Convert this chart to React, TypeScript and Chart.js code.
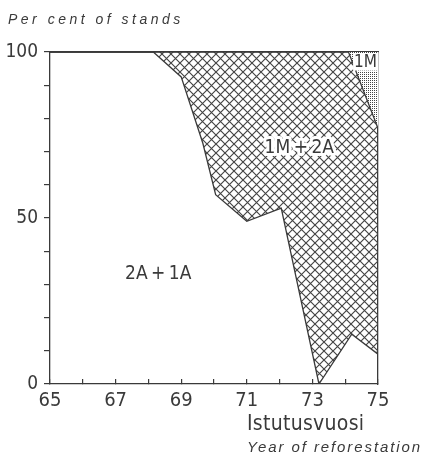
import { useEffect, useRef } from "react";
import { Chart, registerables } from "chart.js";

Chart.register(...registerables);

// Share of stands (%) in the "2A + 1A" class, by year of reforestation
const years2A1A = [65, 68.15, 69, 69.66, 70.05, 71, 72.05, 73.2, 74.2, 75];
const share2A1A = [100, 100, 92.5, 72.5, 57, 49, 53, 0, 15, 9];

// Upper edge of the "1M + 2A" class (the rest, up to 100 %, is "1M")
const years1M2A = [65, 74.1, 75];
const top1M2A = [100, 100, 77];

const xTickYears = [65, 66, 67, 68, 69, 70, 71, 72, 73, 74, 75];
const xLabelYears = [65, 67, 69, 71, 73, 75];
const yLabelValues = [0, 50, 100];

const classNames = ["2A\u2009+\u20091A", "1M\u2009+\u20092A", "1M"];
const classAnchorYear = [68.3, 72.6, 74.62];
const classAnchorShare = [33, 71, 96.8];

const FONT = "'Liberation Sans Narrow', 'DejaVu Sans Condensed', 'Liberation Sans', sans-serif";
const INK = "#3a3a3a";

function hatchPattern(ctx: CanvasRenderingContext2D): CanvasPattern {
  const s = 9;
  const c = document.createElement("canvas");
  c.width = s;
  c.height = s;
  const g = c.getContext("2d")!;
  g.strokeStyle = "#444";
  g.lineWidth = 1.15;
  for (const k of [-s, 0, s]) {
    g.beginPath();
    g.moveTo(k, 0);
    g.lineTo(k + s, s);
    g.moveTo(k, s);
    g.lineTo(k + s, 0);
    g.stroke();
  }
  return ctx.createPattern(c, "repeat")!;
}

function stipplePattern(ctx: CanvasRenderingContext2D): CanvasPattern {
  const c = document.createElement("canvas");
  c.width = 2;
  c.height = 2;
  const g = c.getContext("2d")!;
  g.fillStyle = "#fff";
  g.fillRect(0, 0, 2, 2);
  g.fillStyle = "#444";
  g.fillRect(0, 0, 1, 1);
  return ctx.createPattern(c, "repeat")!;
}

const classLabelPlugin = {
  id: "classLabels",
  afterDatasetsDraw(chart: any) {
    const { ctx, scales } = chart;
    const x = scales.x;
    const y = scales.y;
    ctx.save();
    ctx.textAlign = "center";
    ctx.textBaseline = "middle";
    classNames.forEach((name, i) => {
      const px = x.getPixelForValue(classAnchorYear[i]);
      const py = y.getPixelForValue(classAnchorShare[i]);
      const boxed = i === 2;
      ctx.font = `${boxed ? 17 : 19}px ${FONT}`;
      const w = ctx.measureText(name).width;
      if (boxed) {
        ctx.fillStyle = "#fff";
        ctx.fillRect(px - w / 2 - 1, py - 9, w + 2, 17);
      } else {
        ctx.strokeStyle = "#fff";
        ctx.lineWidth = 6;
        ctx.lineJoin = "round";
        ctx.strokeText(name, px, py);
      }
      ctx.fillStyle = INK;
      ctx.fillText(name, px, py);
    });
    ctx.restore();
  },
};

export default function App() {
  const canvasRef = useRef<HTMLCanvasElement | null>(null);

  useEffect(() => {
    const canvas = canvasRef.current;
    if (!canvas) return;
    const ctx = canvas.getContext("2d")!;

    const lowerEdge = years2A1A.map((yr, i) => ({ x: yr, y: share2A1A[i] }));
    const upperEdge = years1M2A.map((yr, i) => ({ x: yr, y: top1M2A[i] }));

    const chart = new Chart(ctx, {
      type: "line",
      data: {
        datasets: [
          {
            label: "1M",
            data: upperEdge,
            fill: "end",
            backgroundColor: stipplePattern(ctx),
            borderColor: INK,
            borderWidth: 1.3,
            pointRadius: 0,
            tension: 0,
          },
          {
            label: "1M + 2A",
            data: lowerEdge,
            fill: "end",
            backgroundColor: hatchPattern(ctx),
            borderColor: INK,
            borderWidth: 1.3,
            pointRadius: 0,
            tension: 0,
          },
        ],
      },
      options: {
        responsive: false,
        animation: false,
        events: [],
        layout: { padding: { left: 0, right: 47, top: 52, bottom: 0 } },
        plugins: {
          legend: { display: false },
          tooltip: { enabled: false },
        },
        scales: {
          x: {
            type: "linear",
            position: "bottom",
            min: 65,
            max: 75,
            afterBuildTicks: (scale: any) => {
              scale.ticks = xTickYears.map((v) => ({ value: v }));
            },
            afterFit: (scale: any) => {
              scale.height = 72;
            },
            ticks: {
              autoSkip: false,
              maxRotation: 0,
              padding: 10,
              color: INK,
              font: { family: FONT, size: 20 },
              callback: (v: any) => (xLabelYears.includes(Number(v)) ? String(v) : ""),
            },
            grid: { drawOnChartArea: false, tickLength: -5, color: INK, lineWidth: 1.2 },
            border: { color: INK, width: 1.3 },
          },
          y: {
            type: "linear",
            position: "left",
            min: 0,
            max: 100,
            afterFit: (scale: any) => {
              scale.width = 50;
            },
            ticks: {
              stepSize: 10,
              autoSkip: false,
              padding: 6,
              color: INK,
              font: { family: FONT, size: 19 },
              callback: (v: any) => (yLabelValues.includes(Number(v)) ? String(v) : ""),
            },
            grid: { drawOnChartArea: false, tickLength: 6, color: INK, lineWidth: 1.2 },
            border: { color: INK, width: 1.3 },
          },
          xTop: {
            type: "linear",
            position: "top",
            min: 65,
            max: 75,
            afterFit: (scale: any) => {
              scale.height = 0;
            },
            ticks: { display: false },
            grid: { display: false, drawTicks: false },
            border: { color: INK, width: 1.3 },
          },
          yRight: {
            type: "linear",
            position: "right",
            min: 0,
            max: 100,
            afterFit: (scale: any) => {
              scale.width = 0;
            },
            ticks: { display: false },
            grid: { display: false, drawTicks: false },
            border: { color: INK, width: 1.3 },
          },
        },
      },
      plugins: [classLabelPlugin],
    });

    return () => chart.destroy();
  }, []);

  const italic: React.CSSProperties = {
    position: "absolute",
    fontFamily: "'Liberation Sans', Arial, sans-serif",
    fontStyle: "italic",
    color: INK,
    whiteSpace: "nowrap",
    lineHeight: 1,
  };

  return (
    <div style={{ position: "fixed", left: 0, top: 0, width: 425, height: 456, background: "#fff" }}>
      <canvas ref={canvasRef} width={425} height={456} style={{ display: "block" }} />
      <div style={{ ...italic, left: 8, top: 12, fontSize: 14, letterSpacing: "3.5px" }}>
        Per cent of stands
      </div>
      <div
        style={{
          position: "absolute",
          left: 247,
          top: 413,
          fontFamily: FONT,
          fontSize: 21,
          letterSpacing: "0.3px",
          color: INK,
          whiteSpace: "nowrap",
          lineHeight: 1,
        }}
      >
        Istutusvuosi
      </div>
      <div style={{ ...italic, left: 247, top: 439, fontSize: 15, letterSpacing: "1.9px" }}>
        Year of reforestation
      </div>
    </div>
  );
}
